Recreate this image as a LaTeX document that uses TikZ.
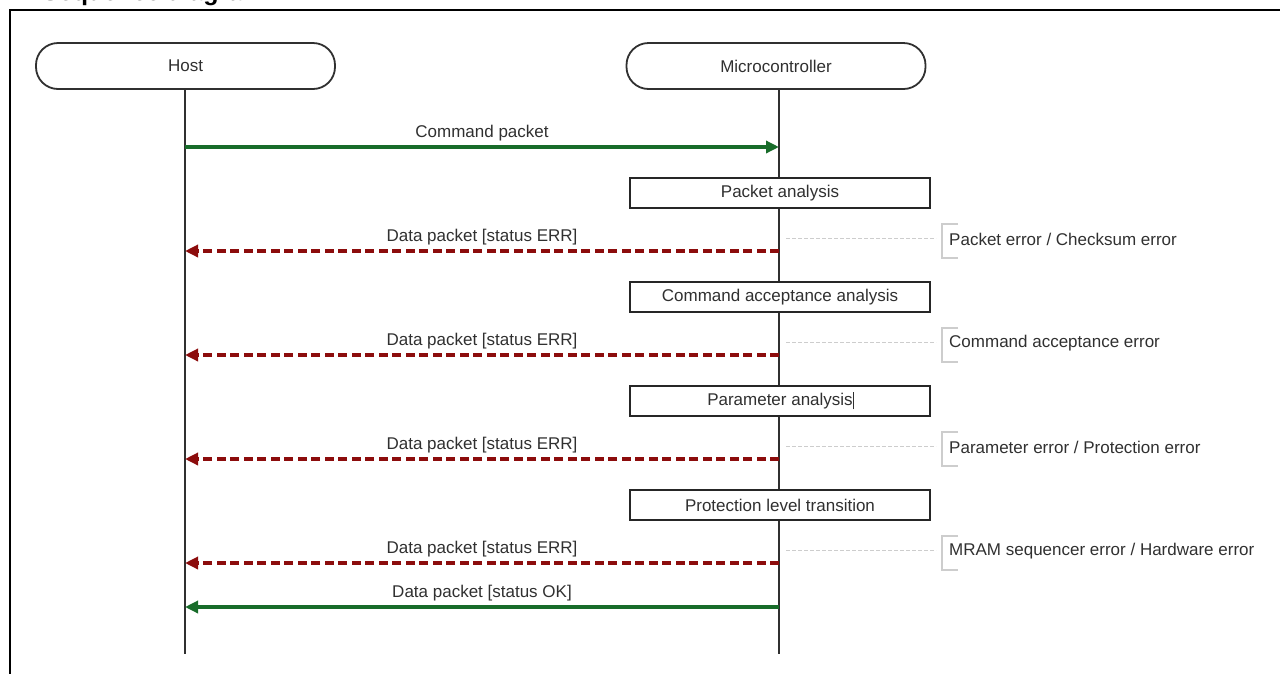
\documentclass[tikz,border=0pt]{standalone}
\usepackage{fontspec}
\setmainfont{Liberation Sans}
\usetikzlibrary{arrows.meta}
\definecolor{okgreen}{RGB}{24,108,42}
\definecolor{errred}{RGB}{140,12,12}
\definecolor{notegray}{RGB}{205,205,205}
\definecolor{ink}{RGB}{48,48,48}

\begin{document}
\begin{tikzpicture}[x=1pt,y=-1pt,
  every node/.style={font=\fontsize{17}{20}\selectfont, text=ink},
  actor/.style={draw=ink, line width=1.8pt, rounded corners=22pt, fill=white,
                minimum width=299pt, minimum height=46pt, inner sep=0pt},
  stepbox/.style={draw=black!85, line width=2.2pt, fill=white,
                  minimum width=300pt, minimum height=30pt, inner sep=0pt},
  lifeline/.style={draw=ink, line width=2pt},
  tip/.style={-{Triangle[length=13pt,width=12pt]}},
  okmsg/.style={draw=okgreen, line width=3.4pt, tip},
  errmsg/.style={draw=errred, line width=3.4pt, dash pattern=on 9pt off 4.5pt, tip},
  msglabel/.style={above=3pt, inner sep=1pt},
  noteline/.style={draw=notegray, line width=0.9pt, dash pattern=on 4pt off 2pt},
  notebracket/.style={draw=notegray, line width=1.6pt},
  notetext/.style={anchor=west, inner sep=0pt}
]
\useasboundingbox (0,0) rectangle (1280,673);

% page heading, mostly above the visible area
\begin{scope}
  \clip (0,0) rectangle (1280,673);
  \node[anchor=base west, inner sep=0pt, text=black,
        font=\bfseries\fontsize{25}{30}\selectfont] (title) at (42,0.5) {Sequence diagram};
\end{scope}

% outer frame
\draw[line width=2.5pt] (1282,10) -- (10,10) -- (10,675);

% participants
\coordinate (hosttop) at (185,89);
\coordinate (hostend) at (185,654);
\coordinate (mcutop) at (779,89);
\coordinate (mcuend) at (779,654);
\draw[lifeline] (hosttop) -- (hostend);
\draw[lifeline] (mcutop) -- (mcuend);
\node[actor] (host) at (185.5,66) {Host};
\node[actor] (mcu) at (776,66) {Microcontroller};

% command from host
\coordinate (c0h) at (185,147);
\coordinate (c0m) at (779,147);
\draw[okmsg] (c0h) -- node[msglabel] (c0lab) {Command packet} (c0m);

% processing steps
\node[stepbox] (s1) at (780,193) {Packet analysis};
\node[stepbox] (s2) at (780,297) {Command acceptance analysis};
\node[stepbox] (s3) at (780,401) {Parameter analysis\rlap{\rule[-3.5pt]{0.8pt}{17pt}}};
\node[stepbox] (s4) at (780,505) {Protection level transition};

% error replies with their causes
\foreach \i/\y/\txt in {1/251/{Packet error / Checksum error},
                        2/355/{Command acceptance error},
                        3/459/{Parameter error / Protection error},
                        4/563/{MRAM sequencer error / Hardware error}}{
  \coordinate (e\i m) at (779,\y);
  \coordinate (e\i h) at (185,\y);
  \draw[errmsg] (e\i m) -- node[msglabel] (e\i lab) {Data packet [status ERR]} (e\i h);
  \coordinate (n\i a) at (786,\y-13);
  \coordinate (n\i b) at (936,\y-13);
  \draw[noteline] (n\i a) -- (n\i b);
  \draw[notebracket] (958,\y-27) -- (942,\y-27) -- (942,\y+7) -- (958,\y+7);
  \node[notetext] (n\i) at (949,\y-12) {\txt};
}

% final reply
\coordinate (okm) at (779,607);
\coordinate (okh) at (185,607);
\draw[okmsg] (okm) -- node[msglabel] (oklab) {Data packet [status OK]} (okh);

\end{tikzpicture}
\end{document}
